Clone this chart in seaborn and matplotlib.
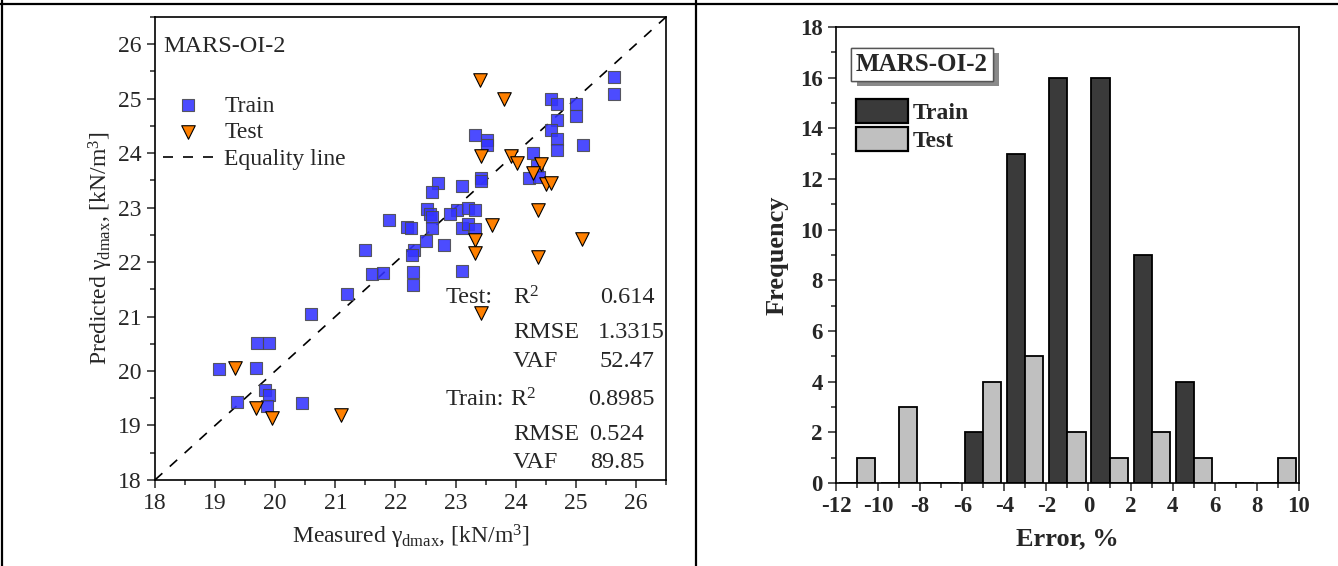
# Measured vs predicted dry density (MARS-OI-2) and error histogram

import pandas as pd
import matplotlib
matplotlib.use("Agg")
import matplotlib.pyplot as plt
import matplotlib.patheffects as pe
from matplotlib.lines import Line2D
from matplotlib.patches import Patch
from matplotlib.ticker import MultipleLocator
import seaborn as sns

# scatter data, kN/m3
train_measured = [19.69, 19.90, 19.07, 19.68, 19.83, 19.89, 19.87, 19.36, 20.44,
                  21.90, 21.50, 21.61, 21.80, 21.20, 20.60,
                  25.64, 25.64, 24.58, 24.69, 25.01, 25.01, 24.69, 24.58, 24.69, 24.69,
                  25.12, 23.32, 23.52, 23.52, 24.28, 24.36, 24.22, 24.39, 23.42, 23.43,
                  23.11, 22.71, 22.61, 22.52, 22.58, 22.60, 23.02, 22.90, 23.20, 23.33,
                  22.61, 22.20, 22.26, 23.11, 23.20, 23.32, 22.51, 22.80, 22.30, 22.28,
                  22.29, 22.29, 23.11]
train_predicted = [20.51, 20.51, 20.03, 20.05, 19.65, 19.56, 19.35, 19.43, 19.41,
                   22.78, 22.22, 21.79, 21.80, 21.41, 21.05,
                   25.39, 25.08, 25.00, 24.90, 24.91, 24.69, 24.60, 24.43, 24.26, 24.06,
                   24.15, 24.33, 24.24, 24.15, 24.01, 23.76, 23.54, 23.57, 23.54, 23.49,
                   23.39, 23.46, 23.28, 22.97, 22.88, 22.83, 22.95, 22.88, 23.00, 22.95,
                   22.62, 22.65, 22.63, 22.62, 22.70, 22.60, 22.39, 22.32, 22.23, 22.13,
                   21.82, 21.58, 21.84]
test_measured = [19.33, 19.68, 19.94, 21.10, 23.41, 23.81, 23.43, 23.92, 24.02, 24.42,
                 24.28, 24.51, 24.58, 24.37, 23.61, 25.11, 23.32, 23.32, 24.37, 23.42]
test_predicted = [20.06, 19.33, 19.13, 19.19, 25.35, 25.00, 23.94, 23.94, 23.82, 23.80,
                  23.63, 23.43, 23.46, 22.95, 22.68, 22.42, 22.40, 22.16, 22.10, 21.07]

# performance indices
stat_groups = ["Test:", "", "", "Train:", "", ""]
stat_names = ["R$^2$", "RMSE", "VAF", "R$^2$", "RMSE", "VAF"]
stat_values = ["0.614", "1.3315", "52.47", "0.8985", "0.524", "89.85"]

# error histogram, bin centres in %
error_bins = [-11, -9, -7, -5, -3, -1, 1, 3, 5, 7, 9]
train_freq = [0, 0, 0, 2, 13, 16, 16, 9, 4, 0, 0]
test_freq = [1, 3, 0, 4, 5, 2, 1, 2, 1, 0, 1]

model_name = "MARS-OI-2"

sns.set_style("ticks")
plt.rcParams["font.family"] = ["Liberation Serif", "DejaVu Serif"]
plt.rcParams["mathtext.fontset"] = "custom"
plt.rcParams["mathtext.rm"] = "Liberation Serif"
plt.rcParams["mathtext.it"] = "Liberation Serif:italic"
plt.rcParams["axes.unicode_minus"] = False

fig = plt.figure(figsize=(13.38, 5.66), dpi=100)
ax1 = fig.add_axes([0.1158, 0.152, 0.382, 0.818])
ax2 = fig.add_axes([0.6248, 0.1466, 0.346, 0.8057])

# ---- left: measured vs predicted ----
train_df = pd.DataFrame({"measured": train_measured, "predicted": train_predicted})
test_df = pd.DataFrame({"measured": test_measured, "predicted": test_predicted})

sns.scatterplot(data=train_df, x="measured", y="predicted", ax=ax1, marker="s",
                s=68, color="#3333ff", alpha=0.88, edgecolor="#4a4a4a",
                linewidth=0.8, label="Train", zorder=3)
sns.scatterplot(data=test_df, x="measured", y="predicted", ax=ax1, marker="v",
                s=95, color="#ff8000", edgecolor="black", linewidth=0.8,
                label="Test", zorder=4)
ax1.plot([18, 26.5], [18, 26.5], color="black", linestyle="--", dashes=(6, 6),
         linewidth=1.2, label="Equality line", zorder=2)

ax1.set_xlim(18, 26.5)
ax1.set_ylim(18, 26.5)
ax1.xaxis.set_major_locator(MultipleLocator(1))
ax1.yaxis.set_major_locator(MultipleLocator(1))
ax1.xaxis.set_minor_locator(MultipleLocator(0.5))
ax1.yaxis.set_minor_locator(MultipleLocator(0.5))
ax1.tick_params(which="major", direction="out", length=6, width=1.1, labelsize=17)
ax1.tick_params(which="minor", direction="out", length=3.5, width=1.1)
for sp in ax1.spines.values():
    sp.set_linewidth(1.2)
    sp.set_color("black")
ax1.set_xlabel("Measured γ$_{\\mathrm{dmax}}$, [kN/m$^{3}$]", fontsize=17, labelpad=6)
ax1.set_ylabel("Predicted γ$_{\\mathrm{dmax}}$, [kN/m$^{3}$]", fontsize=17, labelpad=2)

ax1.text(0.016, 0.937, model_name, transform=ax1.transAxes, fontsize=17.5,
         ha="left", va="center")
ax1.legend(loc="upper left", bbox_to_anchor=(0.0157, 0.8315), frameon=False,
           fontsize=17, handlelength=2.15, handletextpad=0.45, labelspacing=0.22,
           borderpad=0, borderaxespad=0)

row_y = [0.3996, 0.324, 0.261, 0.179, 0.104, 0.043]
val_x = [0.871, 0.867, 0.869, 0.847, 0.849, 0.851]
for i in range(len(stat_names)):
    if stat_groups[i]:
        ax1.text(0.569, row_y[i], stat_groups[i], transform=ax1.transAxes,
                 fontsize=17.5, ha="left", va="center_baseline")
    name_x = 0.695 if stat_groups[i] == "Train:" else 0.7006
    ax1.text(name_x, row_y[i], stat_names[i], transform=ax1.transAxes,
             fontsize=17.5, ha="left", va="center_baseline")
    ax1.text(val_x[i], row_y[i], stat_values[i], transform=ax1.transAxes,
             fontsize=17.5, ha="left", va="center_baseline")

# ---- right: error histogram ----
hist_df = pd.DataFrame({
    "error": error_bins * 2,
    "freq": train_freq + test_freq,
    "set": ["Train"] * len(error_bins) + ["Test"] * len(error_bins),
})
colors = {"Train": "#3a3a3a", "Test": "#c0c0c0"}
sns.barplot(data=hist_df, x="error", y="freq", hue="set", hue_order=["Train", "Test"],
            palette=colors, native_scale=True, width=0.86, errorbar=None,
            edgecolor="black", linewidth=1.3, legend=False, ax=ax2)

ax2.set_xlim(-12, 10)
ax2.set_ylim(0, 18)
ax2.xaxis.set_major_locator(MultipleLocator(2))
ax2.yaxis.set_major_locator(MultipleLocator(2))
ax2.xaxis.set_minor_locator(MultipleLocator(1))
ax2.yaxis.set_minor_locator(MultipleLocator(1))
ax2.tick_params(which="major", direction="out", length=6, width=1.1, labelsize=16.5)
ax2.tick_params(which="minor", direction="out", length=3.5, width=1.1)
for lab in ax2.get_xticklabels() + ax2.get_yticklabels():
    lab.set_fontweight("bold")
for sp in ax2.spines.values():
    sp.set_linewidth(1.2)
    sp.set_color("black")
ax2.set_xlabel("Error, %", fontsize=19, fontweight="bold", labelpad=7)
ax2.set_ylabel("Frequency", fontsize=19, fontweight="bold", labelpad=8)

title = ax2.text(0.0432, 0.918, model_name, transform=ax2.transAxes, fontsize=18,
                 fontweight="bold", ha="left", va="center",
                 bbox=dict(boxstyle="square,pad=0.2", fc="white", ec="#555555", lw=1))
title.get_bbox_patch().set_path_effects(
    [pe.withSimplePatchShadow(offset=(4, -4), shadow_rgbFace="#8a8a8a", alpha=1.0),
     pe.Normal()])

handles = [Patch(facecolor=colors[k], edgecolor="black", linewidth=1.6, label=k)
           for k in ["Train", "Test"]]
ax2.legend(handles=handles, loc="upper left", bbox_to_anchor=(0.0425, 0.842),
           frameon=False, handlelength=2.2, handleheight=1.18,
           handletextpad=0.2, labelspacing=0.12, borderpad=0, borderaxespad=0,
           prop={"weight": "bold", "size": 17})

# panel frame lines
for xy in [([0, 1], [0.993, 0.993]), ([0.0015, 0.0015], [0, 1]), ([0.52, 0.52], [0, 1])]:
    fig.add_artist(Line2D(xy[0], xy[1], transform=fig.transFigure, color="black", lw=1.6))

fig.savefig("out.png", dpi=100)
